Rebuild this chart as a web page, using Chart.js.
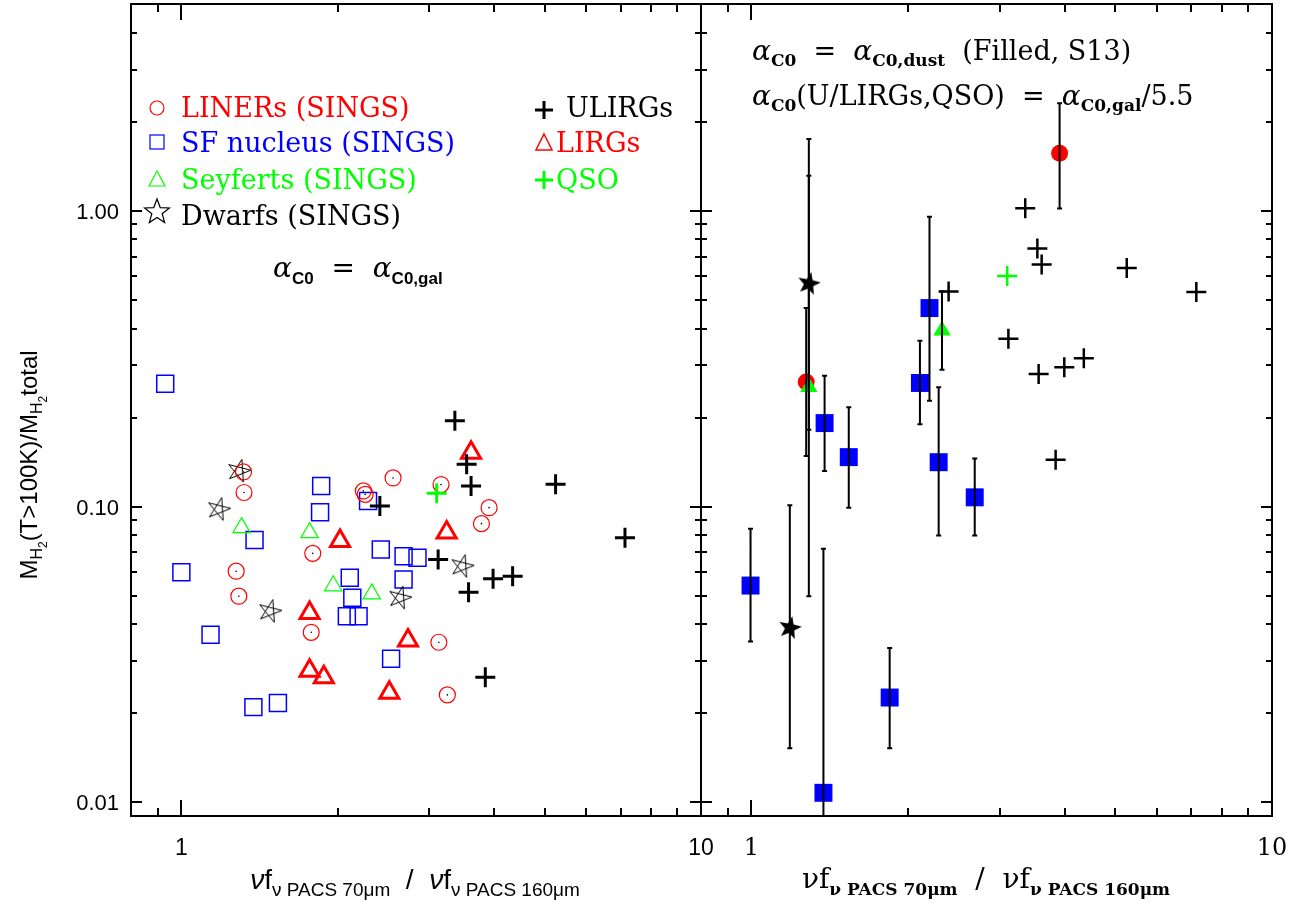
<!DOCTYPE html>
<html>
<head>
<meta charset="utf-8">
<script src="https://cdn.jsdelivr.net/npm/chart.js@4.4.1/dist/chart.umd.min.js"></script>
<style>
  html, body { margin: 0; padding: 0; background: #fff; }
  #wrap { position: relative; width: 1305px; height: 905px; }
  #wrap canvas { position: absolute; left: 0; top: 0; }
</style>
</head>
<body>
<div id="wrap">
  <canvas id="galPanel" width="1305" height="905"></canvas>
  <canvas id="dustPanel" width="1305" height="905"></canvas>
</div>
<script>
// axes (both panels share the same log ranges)
const xRange = [0.8, 10];
const yRange = [0.009, 5];
const xMajor = [1, 10];
const xMinor = [0.9, 2, 3, 4, 5, 6, 7, 8, 9];
const yMajor = [0.01, 0.1, 1];
const yMinor = [0.02, 0.03, 0.04, 0.05, 0.06, 0.07, 0.08, 0.09,
                0.2, 0.3, 0.4, 0.5, 0.6, 0.7, 0.8, 0.9, 2, 3, 4];
const xTickLabels = ['1', '10'];
const yTickLabels = ['0.01', '0.10', '1.00'];

// left panel: alpha_CO = alpha_CO,gal
const linersX = [1.317, 1.32, 2.24, 2.258, 2.555, 3.16, 3.91, 3.78, 1.79, 1.275, 1.29, 1.778, 3.13, 3.25];
const linersY = [0.131, 0.1116, 0.113, 0.110, 0.125, 0.1187, 0.0992, 0.0876, 0.0695, 0.0605, 0.0498, 0.0376, 0.0348, 0.0231];
const sfX = [0.931, 1.858, 1.849, 2.287, 1.383, 2.42, 2.677, 2.847, 1.0, 1.138, 2.109, 2.133, 2.082, 2.193, 2.677, 2.533, 1.376, 1.534];
const sfY = [0.26, 0.1175, 0.0957, 0.1044, 0.0771, 0.0716, 0.068, 0.0672, 0.060, 0.0369, 0.0575, 0.0492, 0.0426, 0.0426, 0.0567, 0.0306, 0.021, 0.0217];
const seyfertX = [1.306, 1.765, 1.96, 2.325];
const seyfertY = [0.0849, 0.0817, 0.054, 0.0507];
const dwarfX = [1.29, 1.18, 3.47, 1.48, 2.634];
const dwarfY = [0.132, 0.098, 0.0629, 0.0443, 0.0492];
const lirgX = [3.61, 2.02, 3.24, 1.765, 2.73, 1.765, 1.88, 2.513];
const lirgY = [0.152, 0.0765, 0.0817, 0.0437, 0.0353, 0.0279, 0.0265, 0.0235];
const ulirgX = [3.36, 3.54, 2.41, 3.61, 5.25, 7.14, 3.12, 3.98, 4.34, 3.57, 3.845];
const ulirgY = [0.195, 0.139, 0.1005, 0.1175, 0.119, 0.0785, 0.0663, 0.057, 0.0582, 0.0514, 0.0265];
const qsoX = [3.10];
const qsoY = [0.111];

// right panel: alpha_CO from dust (S13), U/LIRGs and QSO scaled by 1/5.5
const dustSfX = [0.996, 1.375, 1.382, 1.538, 1.843, 2.107, 2.198, 2.289, 2.685];
const dustSfY = [0.0541, 0.01078, 0.1916, 0.147, 0.02263, 0.2618, 0.469, 0.1413, 0.1075];
const dustSfLo = [0.035, 0.0016, 0.132, 0.0992, 0.01524, 0.190, 0.228, 0.0799, 0.0799];
const dustSfHi = [0.0842, 0.072, 0.2772, 0.2166, 0.0333, 0.364, 0.954, 0.2532, 0.1455];
const dustLinerX = [1.274, 3.908];
const dustLinerY = [0.264, 1.564];
const dustLinerLo = [0.1484, 1.018];
const dustLinerHi = [0.469, 2.31];
const dustSeyfertX = [1.289, 2.323];
const dustSeyfertY = [0.2537, 0.3938];
const dustSeyfertLo = [0.0498, 0.290];
const dustSeyfertHi = [1.314, 0.534];
const dustDwarfX = [1.289, 1.185];
const dustDwarfY = [0.567, 0.0389];
const dustDwarfLo = [0.1819, 0.01524];
const dustDwarfHi = [1.748, 0.101];
const scaledUlirgX = [3.357, 3.542, 3.61, 5.26, 7.155, 2.392, 3.116, 3.562, 3.99, 4.35, 3.84];
const scaledUlirgY = [1.02, 0.745, 0.658, 0.641, 0.531, 0.534, 0.369, 0.281, 0.296, 0.3175, 0.1439];
const scaledQsoX = [3.10];
const scaledQsoY = [0.602];

const RED = '#ff0000', BLUE = '#0000ff', GREEN = '#00ff00', BLACK = '#000000';
const SERIF = '"DejaVu Serif"';
const SANS = '"Liberation Sans"';

const pts = (xs, ys) => xs.map((x, i) => ({ x: x, y: ys[i] }));

// five-pointed stars as small canvases (Chart.js has no such pointStyle)
function starPath(g, r, rot, pentagram) {
  g.beginPath();
  if (pentagram) {
    for (let i = 0; i <= 5; i++) {
      const a = rot - Math.PI / 2 + (i * 2 % 5) * 2 * Math.PI / 5;
      g.lineTo(r * Math.cos(a), r * Math.sin(a));
    }
  } else {
    for (let i = 0; i < 10; i++) {
      const rr = i % 2 ? r * 0.42 : r;
      const a = rot - Math.PI / 2 + i * Math.PI / 5;
      g.lineTo(rr * Math.cos(a), rr * Math.sin(a));
    }
  }
  g.closePath();
}
function starImage(r, filled, rot, pentagram) {
  const c = document.createElement('canvas');
  const s = Math.ceil(2 * r + 4);
  c.width = s; c.height = s;
  const g = c.getContext('2d');
  g.translate(s / 2, s / 2);
  starPath(g, r, rot, pentagram);
  if (filled) { g.fillStyle = BLACK; g.fill(); }
  else { g.strokeStyle = BLACK; g.lineWidth = 1; g.stroke(); }
  return c;
}
const openStar = starImage(12, false, 0.25, true);
const filledStar = starImage(12, true, 0.2, false);

// rich text: runs of [text, font, dy]
function runsWidth(ctx, parts) {
  let w = 0;
  for (const p of parts) { ctx.font = p[1]; w += ctx.measureText(p[0]).width; }
  return w;
}
function drawRuns(ctx, x, y, parts) {
  for (const p of parts) {
    ctx.font = p[1];
    ctx.fillText(p[0], x, y + (p[2] || 0));
    x += ctx.measureText(p[0]).width;
  }
  return x;
}

// frame with inward ticks on all four sides
function drawFrame(chart) {
  const { ctx, chartArea: a, scales: { x: xs, y: ys } } = chart;
  ctx.save();
  ctx.strokeStyle = BLACK;
  ctx.lineWidth = 2;
  ctx.beginPath();
  const xTick = (v, len) => {
    const px = Math.round(xs.getPixelForValue(v));
    ctx.moveTo(px, a.bottom); ctx.lineTo(px, a.bottom - len);
    ctx.moveTo(px, a.top); ctx.lineTo(px, a.top + len);
  };
  const yTick = (v, len) => {
    const py = Math.round(ys.getPixelForValue(v));
    ctx.moveTo(a.left, py); ctx.lineTo(a.left + len, py);
    ctx.moveTo(a.right, py); ctx.lineTo(a.right - len, py);
  };
  xMajor.forEach(v => xTick(v, 16));
  xMinor.forEach(v => xTick(v, 8));
  yMajor.forEach(v => yTick(v, 11));
  yMinor.forEach(v => yTick(v, 6));
  ctx.stroke();
  ctx.strokeRect(a.left, a.top, a.right - a.left, a.bottom - a.top);
  ctx.restore();
}

function drawXLabels(chart, font) {
  const { ctx, scales: { x: xs } } = chart;
  ctx.save();
  ctx.fillStyle = BLACK;
  ctx.font = font;
  ctx.textAlign = 'center';
  ctx.textBaseline = 'alphabetic';
  xMajor.forEach((v, i) => ctx.fillText(xTickLabels[i], xs.getPixelForValue(v), 855));
  ctx.restore();
}

// vertical error bars with small caps, clipped to the plot box
function drawErrors(chart, xs, ys, lo, hi) {
  const { ctx, chartArea: a, scales: { x: sx, y: sy } } = chart;
  ctx.save();
  ctx.beginPath();
  ctx.rect(a.left, a.top, a.right - a.left, a.bottom - a.top);
  ctx.clip();
  ctx.strokeStyle = BLACK;
  ctx.lineWidth = 2;
  ctx.beginPath();
  xs.forEach((x, i) => {
    const px = sx.getPixelForValue(x);
    const top = sy.getPixelForValue(hi[i]);
    const bot = sy.getPixelForValue(lo[i]);
    ctx.moveTo(px, top); ctx.lineTo(px, bot);
    ctx.moveTo(px - 2.5, top); ctx.lineTo(px + 2.5, top);
    ctx.moveTo(px - 2.5, bot); ctx.lineTo(px + 2.5, bot);
  });
  ctx.stroke();
  ctx.restore();
}

function baseOptions(padding) {
  return {
    responsive: false,
    animation: false,
    devicePixelRatio: 1,
    events: [],
    layout: { padding: padding, autoPadding: false },
    plugins: { legend: { display: false }, tooltip: { enabled: false } },
    scales: {
      x: { type: 'logarithmic', min: xRange[0], max: xRange[1], display: false },
      y: { type: 'logarithmic', min: yRange[0], max: yRange[1], display: false }
    }
  };
}

// left panel decorations: legend, note, axis labels
const galDecor = {
  id: 'galDecor',
  afterDraw(chart) {
    const { ctx } = chart;
    drawFrame(chart);
    ctx.save();
    ctx.textBaseline = 'alphabetic';

    // y tick labels
    ctx.fillStyle = BLACK;
    ctx.font = `22px ${SANS}`;
    ctx.textAlign = 'right';
    yMajor.forEach((v, i) => ctx.fillText(yTickLabels[i], 119, chart.scales.y.getPixelForValue(v) + 8));
    ctx.textAlign = 'left';
    drawXLabels(chart, `23px ${SANS}`);

    // legend symbols
    ctx.lineWidth = 1.2;
    ctx.strokeStyle = RED;
    ctx.beginPath(); ctx.arc(157, 108, 7, 0, 2 * Math.PI); ctx.stroke();
    ctx.strokeStyle = BLUE;
    ctx.strokeRect(150, 135, 14, 14);
    ctx.strokeStyle = GREEN;
    ctx.beginPath(); ctx.moveTo(157, 171); ctx.lineTo(165, 186); ctx.lineTo(149, 186); ctx.closePath(); ctx.stroke();
    ctx.save();
    ctx.translate(157, 212);
    ctx.strokeStyle = BLACK;
    starPath(ctx, 13, 0, false);
    ctx.stroke();
    ctx.restore();
    ctx.lineWidth = 3;
    ctx.strokeStyle = BLACK;
    ctx.beginPath(); ctx.moveTo(535, 110); ctx.lineTo(553, 110); ctx.moveTo(544, 101); ctx.lineTo(544, 119); ctx.stroke();
    ctx.strokeStyle = GREEN;
    ctx.beginPath(); ctx.moveTo(535, 180); ctx.lineTo(553, 180); ctx.moveTo(544, 171); ctx.lineTo(544, 189); ctx.stroke();
    ctx.lineWidth = 1.5;
    ctx.strokeStyle = RED;
    ctx.beginPath(); ctx.moveTo(544, 134); ctx.lineTo(552, 150); ctx.lineTo(536, 150); ctx.closePath(); ctx.stroke();

    // legend text
    ctx.font = `27px ${SERIF}`;
    ctx.fillStyle = RED; ctx.fillText('LINERs (SINGS)', 181, 117);
    ctx.fillStyle = BLUE; ctx.fillText('SF nucleus (SINGS)', 181, 152);
    ctx.fillStyle = GREEN; ctx.fillText('Seyferts (SINGS)', 181, 189);
    ctx.fillStyle = BLACK; ctx.fillText('Dwarfs (SINGS)', 181, 225);
    ctx.fillStyle = BLACK; ctx.fillText('ULIRGs', 566, 117);
    ctx.fillStyle = RED; ctx.fillText('LIRGs', 556, 152);
    ctx.fillStyle = GREEN; ctx.fillText('QSO', 556, 189);

    // conversion factor note
    ctx.fillStyle = BLACK;
    const al = `italic 28px ${SERIF}`, big = `28px ${SERIF}`, sub = `bold 17px ${SANS}`;
    drawRuns(ctx, 273, 277, [['α', al], ['C0', sub, 7], ['  =  ', big], ['α', al], ['C0,gal', sub, 7]]);

    // x axis title
    const m = `28px ${SANS}`, s = `19px ${SANS}`;
    const xt = [['ν', `italic ${m}`], ['f', m], ['ν PACS 70μm', s, 7], ['  /  ', m], ['ν', `italic ${m}`], ['f', m], ['ν PACS 160μm', s, 7]];
    drawRuns(ctx, 415 - runsWidth(ctx, xt) / 2, 889, xt);

    // y axis title
    const ym = `24px ${SANS}`, ys1 = `16px ${SANS}`, ys2 = `12px ${SANS}`;
    const yt = [['M', ym], ['H', ys1, 5], ['2', ys2, 10], ['(T>100K)/M', ym], ['H', ys1, 5], ['2', ys2, 10], ['total', ym]];
    ctx.translate(37, 465);
    ctx.rotate(-Math.PI / 2);
    drawRuns(ctx, -runsWidth(ctx, yt) / 2, 0, yt);
    ctx.restore();
  }
};

// right panel decorations
const dustDecor = {
  id: 'dustDecor',
  afterDatasetsDraw(chart) {
    drawErrors(chart, dustSfX, dustSfY, dustSfLo, dustSfHi);
    drawErrors(chart, dustLinerX, dustLinerY, dustLinerLo, dustLinerHi);
    drawErrors(chart, dustSeyfertX, dustSeyfertY, dustSeyfertLo, dustSeyfertHi);
    drawErrors(chart, dustDwarfX, dustDwarfY, dustDwarfLo, dustDwarfHi);
  },
  afterDraw(chart) {
    const { ctx } = chart;
    drawFrame(chart);
    drawXLabels(chart, `24px ${SERIF}`);
    ctx.save();
    ctx.fillStyle = BLACK;
    ctx.textBaseline = 'alphabetic';
    const al = `italic 28px ${SERIF}`, big = `27px ${SERIF}`, sub = `bold 17px ${SERIF}`;
    drawRuns(ctx, 752, 60, [['α', al], ['C0', sub, 6], ['  =  ', big], ['α', al], ['C0,dust', sub, 6], ['  (Filled, S13)', big]]);
    drawRuns(ctx, 752, 105, [['α', al], ['C0', sub, 6], ['(U/LIRGs,QSO)', big], ['  =  ', big], ['α', al], ['C0,gal', sub, 6], ['/5.5', big]]);

    const m = `28px ${SERIF}`, s = `bold 17px ${SERIF}`;
    const xt = [['ν', m], ['f', m], ['ν PACS 70μm', s, 7], ['  /  ', m], ['ν', m], ['f', m], ['ν PACS 160μm', s, 7]];
    drawRuns(ctx, 986 - runsWidth(ctx, xt) / 2, 888, xt);
    ctx.restore();
  }
};

new Chart(document.getElementById('galPanel'), {
  type: 'scatter',
  data: {
    datasets: [
      { label: 'QSO', data: pts(qsoX, qsoY), pointStyle: 'cross', pointRadius: 10,
        borderColor: GREEN, borderWidth: 3 },
      { label: 'ULIRGs', data: pts(ulirgX, ulirgY), pointStyle: 'cross', pointRadius: 10,
        borderColor: BLACK, borderWidth: 3 },
      { label: 'LIRGs', data: pts(lirgX, lirgY), pointStyle: 'triangle', pointRadius: 11,
        borderColor: RED, backgroundColor: 'rgba(0,0,0,0)', borderWidth: 3 },
      { label: 'LINERs centre', data: pts(linersX, linersY), pointStyle: 'circle', pointRadius: 0.8,
        borderWidth: 0, backgroundColor: BLACK },
      { label: 'LINERs (SINGS)', data: pts(linersX, linersY), pointStyle: 'circle', pointRadius: 8,
        borderColor: RED, backgroundColor: 'rgba(0,0,0,0)', borderWidth: 1.2 },
      { label: 'Seyferts (SINGS)', data: pts(seyfertX, seyfertY), pointStyle: 'triangle', pointRadius: 10,
        borderColor: GREEN, backgroundColor: 'rgba(0,0,0,0)', borderWidth: 1.2 },
      { label: 'Dwarfs (SINGS)', data: pts(dwarfX, dwarfY), pointStyle: openStar },
      { label: 'SF nucleus (SINGS)', data: pts(sfX, sfY), pointStyle: 'rect', pointRadius: 12,
        borderColor: BLUE, backgroundColor: 'rgba(0,0,0,0)', borderWidth: 1.5 }
    ]
  },
  options: baseOptions({ left: 131, right: 1305 - 701, top: 4, bottom: 905 - 816 }),
  plugins: [galDecor]
});

new Chart(document.getElementById('dustPanel'), {
  type: 'scatter',
  data: {
    datasets: [
      { label: 'QSO', data: pts(scaledQsoX, scaledQsoY), pointStyle: 'cross', pointRadius: 10,
        borderColor: GREEN, borderWidth: 2.5 },
      { label: 'ULIRGs', data: pts(scaledUlirgX, scaledUlirgY), pointStyle: 'cross', pointRadius: 10,
        borderColor: BLACK, borderWidth: 2.5 },
      { label: 'Dwarfs', data: pts(dustDwarfX, dustDwarfY), pointStyle: filledStar },
      { label: 'Seyferts', data: pts(dustSeyfertX, dustSeyfertY), pointStyle: 'triangle', pointRadius: 10,
        backgroundColor: GREEN, borderColor: GREEN, borderWidth: 0 },
      { label: 'LINERs', data: pts(dustLinerX, dustLinerY), pointStyle: 'circle', pointRadius: 8.5,
        backgroundColor: RED, borderColor: RED, borderWidth: 0 },
      { label: 'SF nucleus', data: pts(dustSfX, dustSfY), pointStyle: 'rect', pointRadius: 12.7,
        backgroundColor: BLUE, borderColor: BLUE, borderWidth: 0 }
    ]
  },
  options: baseOptions({ left: 701, right: 1305 - 1272, top: 4, bottom: 905 - 816 }),
  plugins: [dustDecor]
});
</script>
</body>
</html>
